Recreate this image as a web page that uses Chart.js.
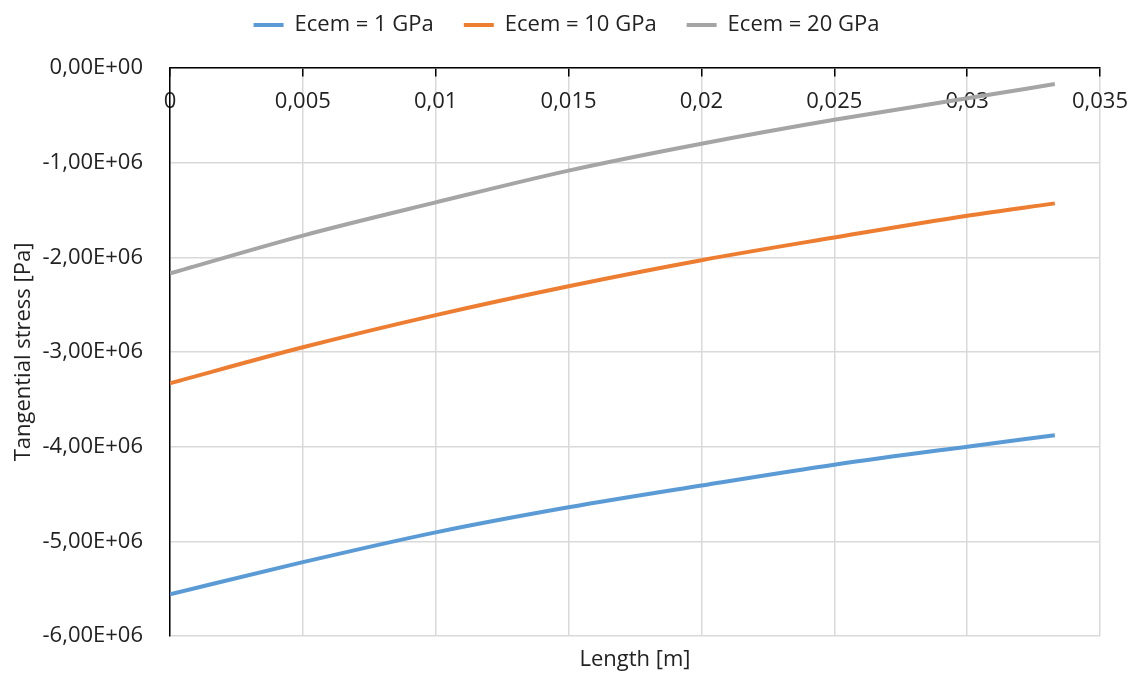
<!DOCTYPE html>
<html>
<head>
<meta charset="utf-8">
<script src="https://cdn.jsdelivr.net/npm/chart.js@4"></script>
<style>
  html, body { margin: 0; padding: 0; background: #fff; }
  #wrap { width: 1133px; height: 673px; }
</style>
</head>
<body>
<div id="wrap"><canvas id="chart"></canvas></div>
<script>
// data (stress in Pa, length in m)
const lengths = [0, 0.005, 0.01, 0.015, 0.02, 0.025, 0.03, 0.0333];
const ecem1 = [-5.56e6, -5.22e6, -4.905e6, -4.64e6, -4.41e6, -4.19e6, -4.0e6, -3.88e6];
const ecem10 = [-3.33e6, -2.95e6, -2.61e6, -2.305e6, -2.03e6, -1.79e6, -1.56e6, -1.43e6];
const ecem20 = [-2.17e6, -1.77e6, -1.42e6, -1.084e6, -0.80e6, -0.547e6, -0.32e6, -0.17e6];
const seriesNames = ['Ecem = 1 GPa', 'Ecem = 10 GPa', 'Ecem = 20 GPa'];
const seriesColors = ['#5B9BD5', '#ED7D31', '#A5A5A5'];

const toPoints = (ys) => lengths.map((x, i) => ({ x: x, y: ys[i] }));

// Excel style "-1,00E+06"
const sciComma = (v) => {
    if (v === 0) return '0,00E+00';
    const exp = Math.floor(Math.log10(Math.abs(v)));
    const mant = v / Math.pow(10, exp);
    const e = (exp < 0 ? '-' : '+') + String(Math.abs(exp)).padStart(2, '0');
    return mant.toFixed(2).replace('.', ',') + 'E' + e;
};

const font = "'Open Sans', 'Liberation Sans', sans-serif";
const txt = '#222';

// empty axis used only to reserve room
const spacer = (position, size) => ({
    type: 'linear',
    position: position,
    min: 0,
    max: 1,
    afterFit: (scale) => {
        if (scale.isHorizontal()) scale.height = size; else scale.width = size;
    },
    ticks: { display: false, padding: 0 },
    grid: { display: false, drawTicks: false },
    border: { display: false }
});

new Chart(document.getElementById('chart'), {
    type: 'line',
    data: {
        datasets: [ecem1, ecem10, ecem20].map((ys, i) => ({
            label: seriesNames[i],
            data: toPoints(ys),
            xAxisID: 'x',
            yAxisID: 'y',
            borderColor: seriesColors[i],
            backgroundColor: seriesColors[i],
            borderWidth: 4,
            pointRadius: 0,
            cubicInterpolationMode: 'monotone',
            fill: false
        }))
    },
    options: {
        responsive: true,
        maintainAspectRatio: false,
        animation: false,
        layout: { padding: { top: -16, right: 0, left: 0, bottom: 0 } },
        plugins: {
            legend: {
                position: 'top',
                labels: {
                    usePointStyle: true,
                    pointStyle: 'line',
                    pointStyleWidth: 30,
                    padding: 30,
                    color: txt,
                    font: { family: font, size: 22 }
                }
            },
            tooltip: { enabled: false }
        },
        scales: {
            x: {
                type: 'linear',
                position: { y: 0 },
                min: 0,
                max: 0.035,
                afterFit: (scale) => { scale.paddingLeft = 0; scale.paddingRight = 0; },
                ticks: {
                    stepSize: 0.005,
                    padding: 13,
                    color: txt,
                    font: { family: font, size: 22 },
                    callback: (v) => String(Math.round(v * 1000) / 1000).replace('.', ',')
                },
                grid: { color: '#d9d9d9', lineWidth: 1.5, tickColor: '#000', tickLength: 8 },
                border: { color: '#000', width: 1.5 }
            },
            y: {
                min: -6e6,
                max: 0,
                afterFit: (scale) => {
                    scale.width = 170;
                    scale.paddingTop = 0;
                    scale.paddingBottom = 0;
                },
                ticks: {
                    stepSize: 1e6,
                    padding: 27,
                    color: txt,
                    font: { family: font, size: 22 },
                    callback: (v) => sciComma(v)
                },
                grid: { color: '#d9d9d9', lineWidth: 1.5, drawTicks: false },
                border: { color: '#000', width: 1.5 },
                title: {
                    display: true,
                    text: 'Tangential stress [Pa]',
                    color: txt,
                    font: { family: font, size: 22 },
                    padding: { top: 11, bottom: 0 }
                }
            },
            xTop: spacer('top', 22),
            yRight: spacer('right', 33),
            // carries the bottom axis title
            xTitle: {
                type: 'linear',
                position: 'bottom',
                min: 0,
                max: 1,
                afterFit: (scale) => { scale.height = 37; },
                ticks: { display: false, padding: 0 },
                grid: { display: false, drawTicks: false },
                border: { display: false },
                title: {
                    display: true,
                    text: 'Length [m]',
                    color: txt,
                    font: { family: font, size: 22 },
                    padding: { top: 5, bottom: 0 }
                }
            }
        }
    }
});
</script>
</body>
</html>
